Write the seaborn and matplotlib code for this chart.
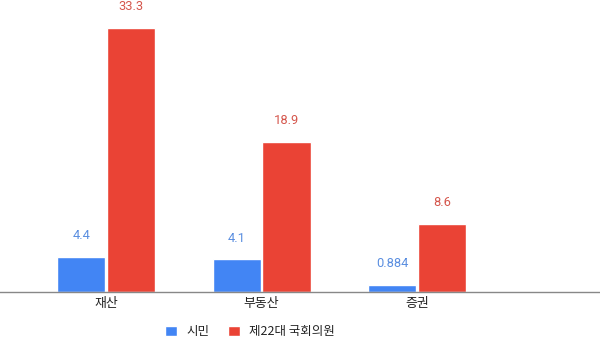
import matplotlib
matplotlib.use("Agg")
import matplotlib.pyplot as plt
import seaborn as sns
import pandas as pd

categories = ["재산", "부동산", "증권"]
series_names = ["시민", "제22대 국회의원"]
citizen = [4.4, 4.1, 0.884]
lawmakers = [33.3, 18.9, 8.6]
citizen_labels = ["4.4", "4.1", "0.884"]
lawmaker_labels = ["33.3", "18.9", "8.6"]
colors = ["#4285F4", "#EA4335"]

df = pd.DataFrame({
    "category": categories * 2,
    "series": [series_names[0]] * 3 + [series_names[1]] * 3,
    "value": citizen + lawmakers,
})

sns.set_theme(style="white")
plt.rcParams["font.family"] = ["Noto Sans CJK KR", "DejaVu Sans"]

fig = plt.figure(figsize=(6.0, 3.42), dpi=100)
ax = fig.add_axes([0.0, 0.147, 1.0, 0.853])

sns.barplot(data=df, x="category", y="value", hue="series", palette=colors,
            width=0.64, gap=0.03, ax=ax, legend=True, saturation=1)

ax.set_xlim(-0.682, 3.177)
ax.set_ylim(0, 36.8)
ax.set_xlabel("")
ax.set_ylabel("")
ax.set_yticks([])
for s in ["top", "right", "left"]:
    ax.spines[s].set_visible(False)
ax.spines["bottom"].set_color("#888888")
ax.spines["bottom"].set_linewidth(1.0)
ax.tick_params(axis="x", length=0, pad=4, labelsize=9.3, labelcolor="#222222")

label_sets = [citizen_labels, lawmaker_labels]
for cont, labs, col in zip(ax.containers, label_sets, ["#5a8ee0", "#d5564c"]):
    ax.bar_label(cont, labels=labs, padding=10.5, fontsize=9.3, color=col,
                 family=["Roboto", "DejaVu Sans"])

handles, labels = ax.get_legend_handles_labels()
ax.get_legend().remove()
fig.legend(handles, labels, loc="center", bbox_to_anchor=(0.417, 0.03), ncol=2,
           frameon=False, fontsize=9, handlelength=0.95, handleheight=0.95,
           handletextpad=0.75, columnspacing=1.5, labelcolor="#222222")

fig.savefig("out.png", dpi=100)
